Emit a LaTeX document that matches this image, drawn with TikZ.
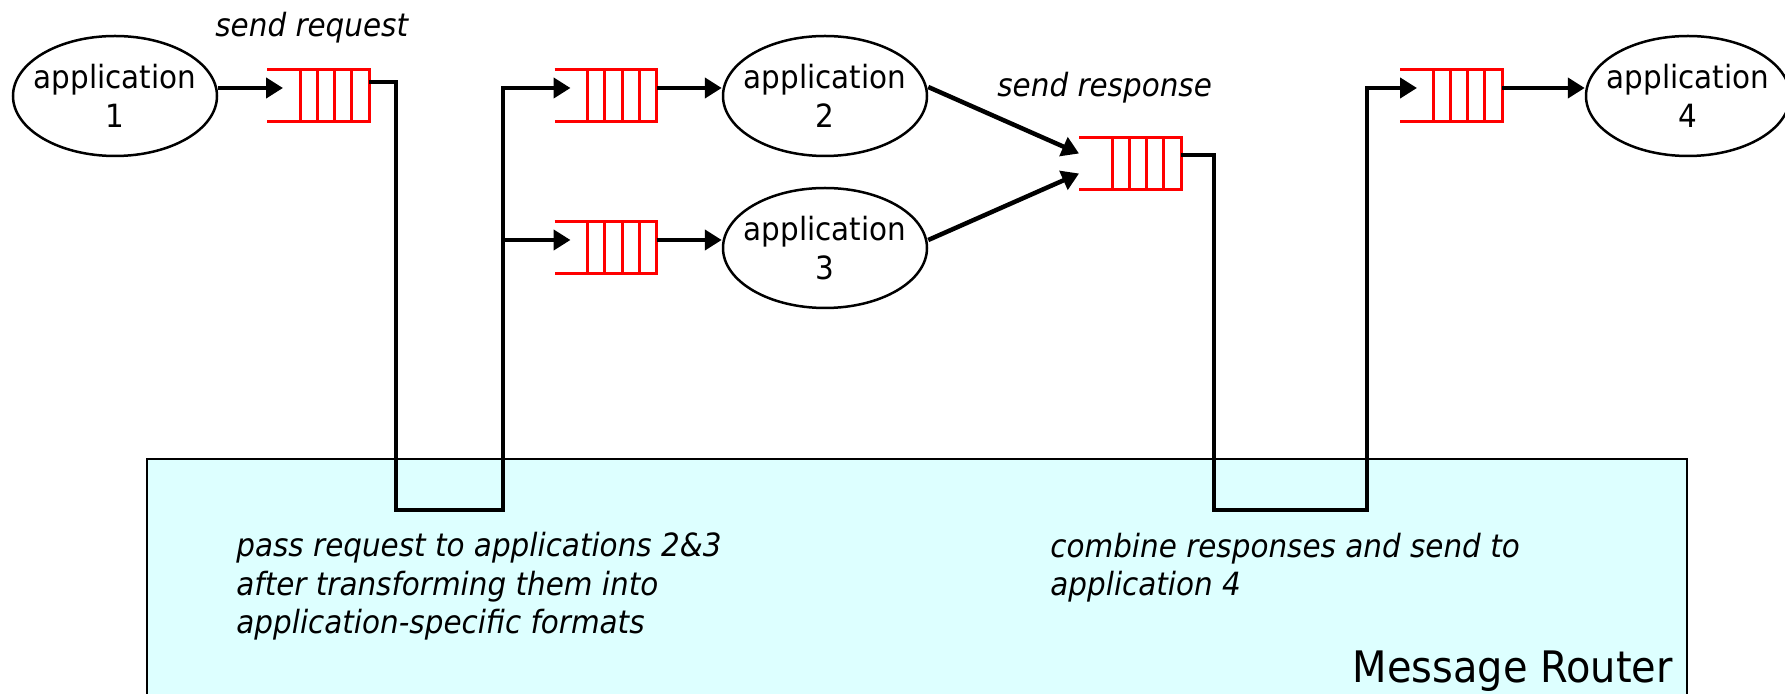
\documentclass[tikz,border=0pt]{standalone}
\usepackage{fontspec}
\setmainfont{DejaVu Sans}[FakeStretch=0.92]
\usetikzlibrary{arrows.meta,shapes.geometric,calc}
\definecolor{routerfill}{HTML}{DDFFFF}
\definecolor{qred}{HTML}{FF0000}

\begin{document}
\begin{tikzpicture}[x=0.5pt,y=-0.5pt,
  app/.style={ellipse,draw,line width=1.25pt,minimum width=102pt,minimum height=60pt,
    inner xsep=-14pt,inner ysep=0pt,align=center,font=\fontsize{16}{19.25}\selectfont},
  queue/.style={rectangle,minimum width=51pt,minimum height=26pt,inner sep=0pt,outer sep=0pt},
  qline/.style={draw=qred,line width=1.5pt},
  flow/.style={line width=2.25pt,-{Triangle[length=8.5pt,width=10pt]}},
  wire/.style={line width=2.25pt},
  note/.style={font=\fontsize{16}{19.25}\selectfont\itshape,inner sep=0pt,align=left},
]
\useasboundingbox (0,0) rectangle (1785,694);

% message router area
\draw[fill=routerfill,line width=1pt] (147,459) rectangle (1687,720);
\node[anchor=base east,inner sep=0pt,font=\fontsize{21.7}{26}\selectfont] (mr) at (1673,683) {Message Router};
% multi-line notes: the base anchor sits on the last line
\node[note,anchor=base west] (passnote) at (236,634)
  {pass request to applications 2\&3\\after transforming them into\\application-specific formats};
\node[note,anchor=base west] (combnote) at (1050,596)
  {combine responses and send to\\application 4};

% applications
\node[app] (app1) at (115,96) {application\\1};
\node[app] (app2) at (825,96) {application\\2};
\node[app] (app3) at (825,248) {application\\3};
\node[app] (app4) at (1688,96) {application\\4};

% message queues
\node[queue] (q1) at (318,96) {};
\node[queue] (q2) at (605.5,96) {};
\node[queue] (q3) at (605.5,248) {};
\node[queue] (q5) at (1130,163.5) {};
\node[queue] (q6) at (1451,96) {};
\foreach \q in {q1,q2,q3,q5,q6}{
  \draw[qline] (\q.north west) -- (\q.north east) -- (\q.south east) -- (\q.south west);
  \foreach \k in {1,...,4}
    \draw[qline] ($(\q.north east)+(-\k*17.25,0)$) -- ($(\q.south east)+(-\k*17.25,0)$);
}

% labels
\node[note,anchor=base west] (sendreq) at (215,37) {send request};
\node[note,anchor=base west] (sendresp) at (997,97) {send response};

% routing turns inside the router
\coordinate (l1) at (396,510);
\coordinate (l2) at (503,510);
\coordinate (r1) at (1214,510);
\coordinate (r2) at (1367,510);

% connectors
\draw[flow] ($(app1.east)+(0,-8)$) -- ($(q1.west)+(16,-8)$);
\draw[flow] ($(q1.east)+(0,-14)$) -| (l1) -- (l2) |- ($(q2.west)+(16,-8)$);
\draw[flow] ($(l2 |- q3)+(0,-8)$) -- ($(q3.west)+(16,-8)$);
\draw[flow] ($(q2.east)+(0,-8)$) -- ($(app2.west)+(0,-8)$);
\draw[flow] ($(q3.east)+(0,-8)$) -- ($(app3.west)+(0,-8)$);
\draw[flow] ($(app2.east)+(0,-9)$) -- ($(q5.west)+(0,-10)$);
\draw[flow] ($(app3.east)+(0,-8)$) -- ($(q5.west)+(0,10)$);
\draw[flow] ($(q5.east)+(0,-8.5)$) -| (r1) -- (r2) |- ($(q6.west)+(17,-8)$);
\draw[flow] ($(q6.east)+(0,-8)$) -- ($(app4.west)+(0,-8)$);
\end{tikzpicture}
\end{document}
